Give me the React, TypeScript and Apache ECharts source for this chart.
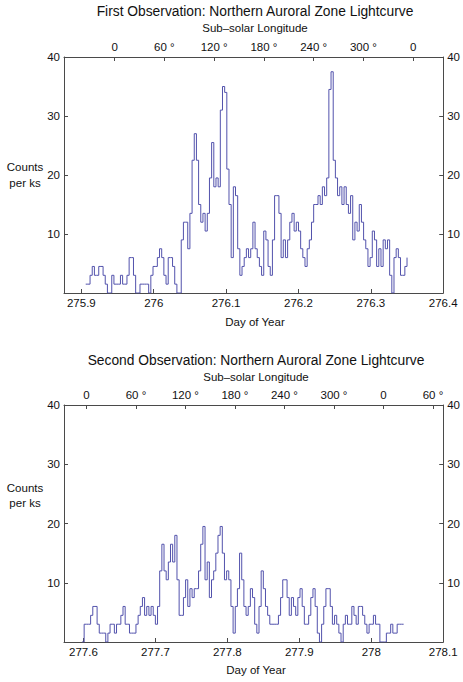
import React, { useEffect, useRef } from "react";
import * as echarts from "echarts";

// ---------- data ----------
const BIN_DAYS = 0.003;
const START_DAY_1 = 275.906;
const START_DAY_2 = 277.598;

const counts1 = [
  1.5, 1.5, 3, 4.5, 3, 3, 4.5, 4.5, 3, 1.5,
  0, 0, 3, 1.5, 1.5, 1.5, 3, 1.5, 1.5, 3,
  6, 6, 3, 0, 0, 1.5, 1.5, 1.5, 1.5, 0,
  3, 4.5, 4.5, 6, 7.5, 6, 3, 1.5, 6, 6,
  4.5, 1.5, 0, 0, 9, 12, 12, 7.5, 13.5, 22.5,
  27, 22.5, 15, 12, 13.5, 10.5, 13.5, 19.5, 25.5, 18,
  19.5, 18, 31, 35, 34, 21, 15, 6, 18, 16.5,
  7.5, 3, 4.5, 6, 7.5, 6, 7.5, 12, 7.5, 6,
  4.5, 3, 10.5, 9, 4.5, 3, 9, 16.5, 16.5, 13.5,
  6, 9, 6, 9, 12, 13.5, 10.5, 12, 10.5, 7.5,
  6, 4.5, 7.5, 9, 12, 15, 15, 16.5, 15, 18,
  16.5, 19.5, 34.5, 37.5, 22.5, 19.5, 16.5, 18, 15, 18,
  15, 13.5, 16.5, 9, 12, 10.5, 15, 12, 9, 7.5,
  4.5, 6, 10.5, 9, 4.5, 7.5, 4.5, 9, 7.5, 9,
  3, 0, 6, 7.5, 6, 3, 3, 4.5, 6,
];

const counts2 = [
  0, 3, 3, 3, 4.5, 6, 6, 3, 1.5, 1.5,
  1.5, 0, 1.5, 3, 3, 1.5, 3, 3, 4.5, 6,
  3, 3, 1.5, 1.5, 1.5, 3, 4.5, 6, 7.5, 4.5,
  6, 4.5, 6, 4.5, 3, 6, 12, 16.5, 12, 10.5,
  13.5, 16.5, 13.5, 18, 10.5, 4.5, 4.5, 7.5, 10.5, 6,
  9, 7.5, 9, 9, 12, 16.5, 19.5, 10.5, 13.5, 7.5,
  10.5, 12, 15, 18, 19.5, 15, 10.5, 12, 10.5, 6,
  1.5, 6, 9, 15, 10.5, 6, 4.5, 6, 9, 7.5,
  3, 1.5, 6, 12, 9, 6, 4.5, 3, 3, 3,
  3, 4.5, 7.5, 10.5, 10.5, 7.5, 4.5, 7.5, 6, 4.5,
  7.5, 9, 6, 3, 3, 4.5, 7.5, 9, 6, 1.5,
  0, 3, 6, 9, 9, 6, 3, 4.5, 3, 1.5,
  0, 3, 4.5, 3, 3, 6, 4.5, 3, 6, 6,
  4.5, 3, 1.5, 3, 3, 4.5, 3, 3, 0, 0,
  0, 1.5, 1.5, 3, 1.5, 1.5, 3, 3, 3, 3,
];

const dayTicks1 = [275.9, 276, 276.1, 276.2, 276.3, 276.4];
const dayTicks2 = [277.6, 277.7, 277.8, 277.9, 278, 278.1];
const lonTicks1 = [0, 60, 120, 180, 240, 300, 360];
const lonTicks2 = [0, 60, 120, 180, 240, 300, 360, 420];

const title1 = "First Observation: Northern Auroral Zone Lightcurve";
const title2 = "Second Observation: Northern Auroral Zone Lightcurve";
const topAxisName = "Sub\u2013solar Longitude";
const bottomAxisName = "Day of Year";
const yName = "Counts\nper ks";

// ---------- helpers ----------
const FONT = "'Liberation Sans', Arial, Helvetica, sans-serif";
const AXIS_COLOR = "#4a4a4a";
const LINE_COLOR = "#5252ac";
const TICK_FS = 11.5;

const toSeries = (start: number, vals: number[]) =>
  vals.map((v, i) => [start + i * BIN_DAYS, v]);

const dayFmt = (v: number) => String(+Number(v).toFixed(1));
const lonFmt = (v: number) => {
  const m = Math.round(v) % 360;
  return m === 0 ? "0" : m + " \u00b0";
};

const baseLine = { show: true, lineStyle: { color: AXIS_COLOR, width: 1 } };
const baseLabel = { color: "#111", fontSize: TICK_FS, fontFamily: FONT };

function xAxisDef(
  gridIndex: number,
  position: "top" | "bottom",
  min: number,
  max: number,
  ticks: number[],
  fmt: (v: number) => string
) {
  return {
    type: "value",
    gridIndex,
    position,
    min,
    max,
    axisLine: { ...baseLine, onZero: false },
    axisTick: { show: true, inside: true, length: 4, customValues: ticks, lineStyle: { color: AXIS_COLOR } },
    axisLabel: { ...baseLabel, margin: 4, customValues: ticks, formatter: fmt, hideOverlap: false },
    splitLine: { show: false },
  };
}

function yAxisDef(gridIndex: number, position: "left" | "right") {
  return {
    type: "value",
    gridIndex,
    position,
    min: 0,
    max: 40,
    interval: 10,
    axisLine: { ...baseLine, onZero: false },
    axisTick: { show: true, inside: true, length: 4, lineStyle: { color: AXIS_COLOR } },
    axisLabel: { ...baseLabel, margin: 4, showMinLabel: false },
    splitLine: { show: false },
  };
}

const txt = (x: number, y: number, text: string, fontSize: number, lineHeight?: number) => ({
  type: "text",
  x,
  y,
  style: {
    text,
    fill: "#111",
    font: `${fontSize}px ${FONT}`,
    fontSize,
    fontFamily: FONT,
    align: "center",
    verticalAlign: "middle",
    lineHeight: lineHeight || fontSize * 1.2,
  },
});

export default function App() {
  const ref = useRef<HTMLDivElement>(null);

  useEffect(() => {
    if (!ref.current) return;
    const chart = echarts.init(ref.current, undefined, { renderer: "svg" });
    chart.setOption({
      animation: false,
      backgroundColor: "#ffffff",
      grid: [
        { left: 64, top: 57, width: 382, height: 236 },
        { left: 64, top: 405, width: 383, height: 237 },
      ],
      xAxis: [
        xAxisDef(0, "bottom", 275.876, 276.4, dayTicks1, dayFmt),
        xAxisDef(0, "top", -61.1, 396.3, lonTicks1, lonFmt),
        xAxisDef(1, "bottom", 277.573, 278.1, dayTicks2, dayFmt),
        xAxisDef(1, "top", -27.2, 432.4, lonTicks2, lonFmt),
      ],
      yAxis: [
        yAxisDef(0, "left"),
        yAxisDef(0, "right"),
        yAxisDef(1, "left"),
        yAxisDef(1, "right"),
      ],
      series: [
        {
          type: "line",
          xAxisIndex: 0,
          yAxisIndex: 0,
          step: "end",
          showSymbol: false,
          symbol: "none",
          lineStyle: { color: LINE_COLOR, width: 1 },
          data: toSeries(START_DAY_1, counts1),
        },
        {
          type: "line",
          xAxisIndex: 2,
          yAxisIndex: 2,
          step: "end",
          showSymbol: false,
          symbol: "none",
          lineStyle: { color: LINE_COLOR, width: 1 },
          data: toSeries(START_DAY_2, counts2),
        },
      ],
      graphic: [
        txt(255, 11, title1, 13.8),
        txt(255, 27.5, topAxisName, 11.5),
        txt(255, 321.7, bottomAxisName, 11.5),
        txt(25, 175, yName, 11.5, 16.6),
        txt(256, 360.7, title2, 13.8),
        txt(256, 377.3, topAxisName, 11.5),
        txt(256, 670, bottomAxisName, 11.5),
        txt(25, 495.5, yName, 11.5, 15),
      ],
    });
    return () => chart.dispose();
  }, []);

  return (
    <div
      ref={ref}
      style={{ position: "fixed", left: 0, top: 0, width: 463, height: 682, background: "#fff" }}
    />
  );
}
